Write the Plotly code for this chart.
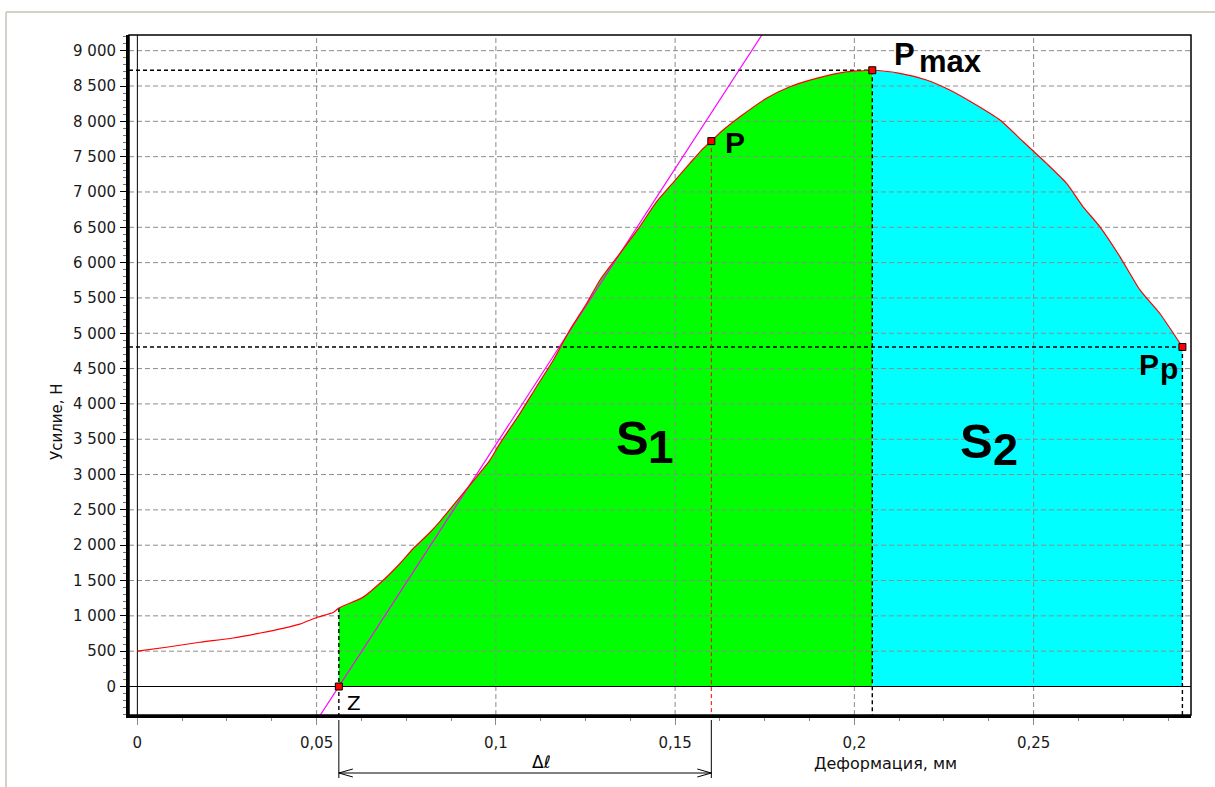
import plotly.graph_objects as go

# ---------------- data ----------------
CURVE_X = [0.0, 0.0081, 0.0174, 0.0267, 0.0343, 0.0406, 0.0453, 0.0500, 0.0546, 0.0562,
           0.0630, 0.0685, 0.0732, 0.0769, 0.0816, 0.0843, 0.0862, 0.0908, 0.0946, 0.0983,
           0.1011, 0.1067, 0.1113, 0.1160, 0.1206, 0.1253, 0.1290, 0.1346, 0.1401, 0.1448,
           0.1494, 0.1541, 0.1574, 0.1601, 0.1634, 0.1681, 0.1755, 0.1820, 0.1894, 0.1969,
           0.2050, 0.2127, 0.2201, 0.2266, 0.2332, 0.2406, 0.2471, 0.2536, 0.2592, 0.2638,
           0.2685, 0.2741, 0.2797, 0.2852, 0.2915]
CURVE_Y = [500, 556, 626, 687, 757, 822, 883, 977, 1047, 1110,
           1265, 1500, 1738, 1950, 2180, 2330, 2447, 2730, 2965, 3202,
           3438, 3863, 4240, 4618, 5043, 5421, 5751, 6130, 6507, 6860,
           7130, 7404, 7593, 7720, 7877, 8065, 8326, 8490, 8609, 8693,
           8723, 8679, 8585, 8443, 8255, 8018, 7711, 7404, 7121, 6790,
           6507, 6082, 5610, 5280, 4806]

Z_X, Z_Y = 0.0562, 0
P_X, P_Y = 0.1601, 7720
PMAX_X, PMAX_Y = 0.2050, 8723
PP_X, PP_Y = 0.2915, 4806
TANGENT_SLOPE = 78150  # N per mm, tangent through Z

X_TICKS = [0, 0.05, 0.10, 0.15, 0.20, 0.25]
X_TICK_TEXT = ["0", "0,05", "0,1", "0,15", "0,2", "0,25"]
Y_TICKS = list(range(0, 9001, 500))
Y_TICK_TEXT = ["0", "500", "1 000", "1 500", "2 000", "2 500", "3 000", "3 500", "4 000",
               "4 500", "5 000", "5 500", "6 000", "6 500", "7 000", "7 500", "8 000",
               "8 500", "9 000"]

X_TITLE = "Деформация, мм"
Y_TITLE = "Усилие, Н"

# ---------------- layout constants ----------------
W, H = 1215, 787
M_L, M_R, M_T, M_B = 129, 24, 35, 72
PW, PH = W - M_L - M_R, H - M_T - M_B
X_RANGE = [-0.002334, 0.2939]
Y_RANGE = [-403.4, 9222]
FONT = "DejaVu Sans"
LBL = "Liberation Sans"


def px(x):      # figure pixel -> paper x
    return (x - M_L) / PW


def py(y):      # figure pixel -> paper y
    return (H - M_B - y) / PH


def dpx(xv):    # data x -> paper x
    return (xv - X_RANGE[0]) / (X_RANGE[1] - X_RANGE[0])


fig = go.Figure()
SM = 0.6

# fills
s1 = [(x, y) for x, y in zip(CURVE_X, CURVE_Y) if Z_X <= x <= PMAX_X]
s2 = [(x, y) for x, y in zip(CURVE_X, CURVE_Y) if PMAX_X <= x <= PP_X]
fig.add_trace(go.Scatter(x=[a for a, _ in s1], y=[b for _, b in s1], fill="tozeroy",
                         fillcolor="#00ff00", mode="lines", hoverinfo="skip",
                         line=dict(width=0, shape="spline", smoothing=SM)))
fig.add_trace(go.Scatter(x=[a for a, _ in s2], y=[b for _, b in s2], fill="tozeroy",
                         fillcolor="#00ffff", mode="lines", hoverinfo="skip",
                         line=dict(width=0, shape="spline", smoothing=SM)))

# grid (drawn over the fills)
gx, gy = [], []
for t in X_TICKS[1:]:
    gx += [t, t, None]
    gy += [Y_RANGE[0], Y_RANGE[1], None]
for t in Y_TICKS[1:]:
    gx += [X_RANGE[0], X_RANGE[1], None]
    gy += [t, t, None]
fig.add_trace(go.Scatter(x=gx, y=gy, mode="lines", hoverinfo="skip",
                         line=dict(color="#8c8c8c", width=1, dash="5px,3px")))

# zero lines
fig.add_trace(go.Scatter(x=[0, 0, None, X_RANGE[0], X_RANGE[1]],
                         y=[Y_RANGE[0], Y_RANGE[1], None, 0, 0], mode="lines",
                         hoverinfo="skip", line=dict(color="black", width=1)))

# black dashed reference lines
z_curve = CURVE_Y[CURVE_X.index(Z_X)]
bx = [X_RANGE[0], PMAX_X, None, PMAX_X, PMAX_X, None,
      X_RANGE[0], PP_X, None, PP_X, PP_X, None,
      Z_X, Z_X]
by = [PMAX_Y, PMAX_Y, None, PMAX_Y, Y_RANGE[0], None,
      PP_Y, PP_Y, None, PP_Y, Y_RANGE[0], None,
      z_curve, Y_RANGE[0]]
fig.add_trace(go.Scatter(x=bx, y=by, mode="lines", hoverinfo="skip",
                         line=dict(color="black", width=1.4, dash="4px,3px")))
# red dashed at P
fig.add_trace(go.Scatter(x=[P_X, P_X], y=[P_Y, Y_RANGE[0]], mode="lines", hoverinfo="skip",
                         line=dict(color="#ff0000", width=1, dash="4px,3px")))

# tangent
tx = [Z_X + Y_RANGE[0] / TANGENT_SLOPE, Z_X + Y_RANGE[1] / TANGENT_SLOPE]
fig.add_trace(go.Scatter(x=tx, y=[Y_RANGE[0], Y_RANGE[1]], mode="lines", hoverinfo="skip",
                         line=dict(color="#ff00ff", width=1.2)))

# curve
fig.add_trace(go.Scatter(x=CURVE_X, y=CURVE_Y, mode="lines",
                         line=dict(color="#ff0000", width=1.2, shape="spline", smoothing=SM)))

# points
fig.add_trace(go.Scatter(x=[Z_X, P_X, PMAX_X, PP_X], y=[Z_Y, P_Y, PMAX_Y, PP_Y],
                         mode="markers", cliponaxis=False,
                         marker=dict(symbol="square", size=7, color="#ff0000",
                                     line=dict(color="black", width=1))))

# ---------------- shapes ----------------
shapes = []
shapes.append(dict(type="rect", xref="paper", yref="paper", x0=0, x1=1, y0=0, y1=1,
                   line=dict(color="black", width=1.5), layer="above"))
# outer panel border (left, top)
shapes.append(dict(type="line", xref="paper", yref="paper", x0=px(6), x1=px(6),
                   y0=py(12), y1=py(H + 5), line=dict(color="#d4d0c8", width=2)))
shapes.append(dict(type="line", xref="paper", yref="paper", x0=px(6), x1=px(W + 5),
                   y0=py(12), y1=py(12), line=dict(color="#d4d0c8", width=2)))
# dimension for delta-l
ya, yb, yl = py(720), py(778), py(773)
xa, xb = dpx(Z_X), dpx(P_X)
ahx, ahy = 14 / PW, 4 / PH
for xv in (xa, xb):
    shapes.append(dict(type="line", xref="paper", yref="paper", x0=xv, x1=xv,
                       y0=ya, y1=yb, line=dict(color="black", width=1)))
shapes.append(dict(type="line", xref="paper", yref="paper", x0=xa, x1=xb, y0=yl, y1=yl,
                   line=dict(color="black", width=1)))
shapes.append(dict(type="path", xref="paper", yref="paper",
                   path=f"M{xa + ahx},{yl + ahy} L{xa},{yl} L{xa + ahx},{yl - ahy}",
                   line=dict(color="black", width=1)))
shapes.append(dict(type="path", xref="paper", yref="paper",
                   path=f"M{xb - ahx},{yl + ahy} L{xb},{yl} L{xb - ahx},{yl - ahy}",
                   line=dict(color="black", width=1)))
fig.update_layout(shapes=shapes)

# ---------------- annotations ----------------
ann = []


def label(text, x, baseline, size, family, xanchor="left", weight="bold", color="black"):
    ann.append(dict(x=px(x), y=py(baseline - 0.3465 * size), xref="paper", yref="paper",
                    text=text, showarrow=False, xanchor=xanchor, yanchor="middle",
                    borderpad=0, borderwidth=0,
                    font=dict(family=family, size=size, color=color, weight=weight)))


label("P", 724.7, 153.3, 30, LBL)
label("P", 893.5, 65.5, 31, LBL)
label("max", 918.5, 72.5, 31, LBL)
label("P", 1139.4, 375, 30, LBL)
label("p", 1160, 379, 30, LBL)
label("S", 616, 455, 49, LBL)
label("1", 648, 463, 46, LBL)
label("S", 960, 458, 49, LBL)
label("2", 993.2, 465, 45, LBL)
label("Z", 354, 710, 20, FONT, xanchor="center", weight="normal")
label("Δℓ", 541, 768, 17, FONT, xanchor="center", weight="normal")

ann.append(dict(x=px(57), y=py(422), xref="paper", yref="paper", text=Y_TITLE, textangle=-90,
                xanchor="center", yanchor="middle", showarrow=False,
                font=dict(family=FONT, size=15, color="#111")))
ann.append(dict(x=px(885), y=py(763), xref="paper", yref="paper", text=X_TITLE,
                xanchor="center", yanchor="middle", showarrow=False,
                font=dict(family=FONT, size=16, color="#111")))
fig.update_layout(annotations=ann)

fig.update_layout(
    width=W, height=H, autosize=False,
    margin=dict(l=M_L, r=M_R, t=M_T, b=M_B, pad=0),
    paper_bgcolor="white", plot_bgcolor="white",
    showlegend=False,
    font=dict(family=FONT, size=15, color="#1a1a1a"),
    xaxis=dict(range=X_RANGE, showgrid=False, zeroline=False, showline=True,
               linecolor="black", linewidth=3, ticks="outside", ticklen=7, tickcolor="#888",
               tickvals=X_TICKS, ticktext=X_TICK_TEXT, ticklabelstandoff=5,
               tickfont=dict(family=FONT, size=15, color="#1a1a1a"),
               minor=dict(ticks="outside", dtick=0.0125, tick0=0, ticklen=3,
                          tickcolor="#888", showgrid=False)),
    yaxis=dict(range=Y_RANGE, showgrid=False, zeroline=False, showline=True,
               linecolor="black", linewidth=3, ticks="outside", ticklen=6, tickcolor="black",
               tickvals=Y_TICKS, ticktext=Y_TICK_TEXT, ticklabelstandoff=1,
               tickfont=dict(family=FONT, size=15, color="#1a1a1a"),
               minor=dict(ticks="outside", dtick=100, tick0=0, ticklen=3,
                          tickcolor="#777", showgrid=False)),
)

fig.write_html("out.html", config={"displayModeBar": False},
               post_script="document.body.style.margin='0';")
